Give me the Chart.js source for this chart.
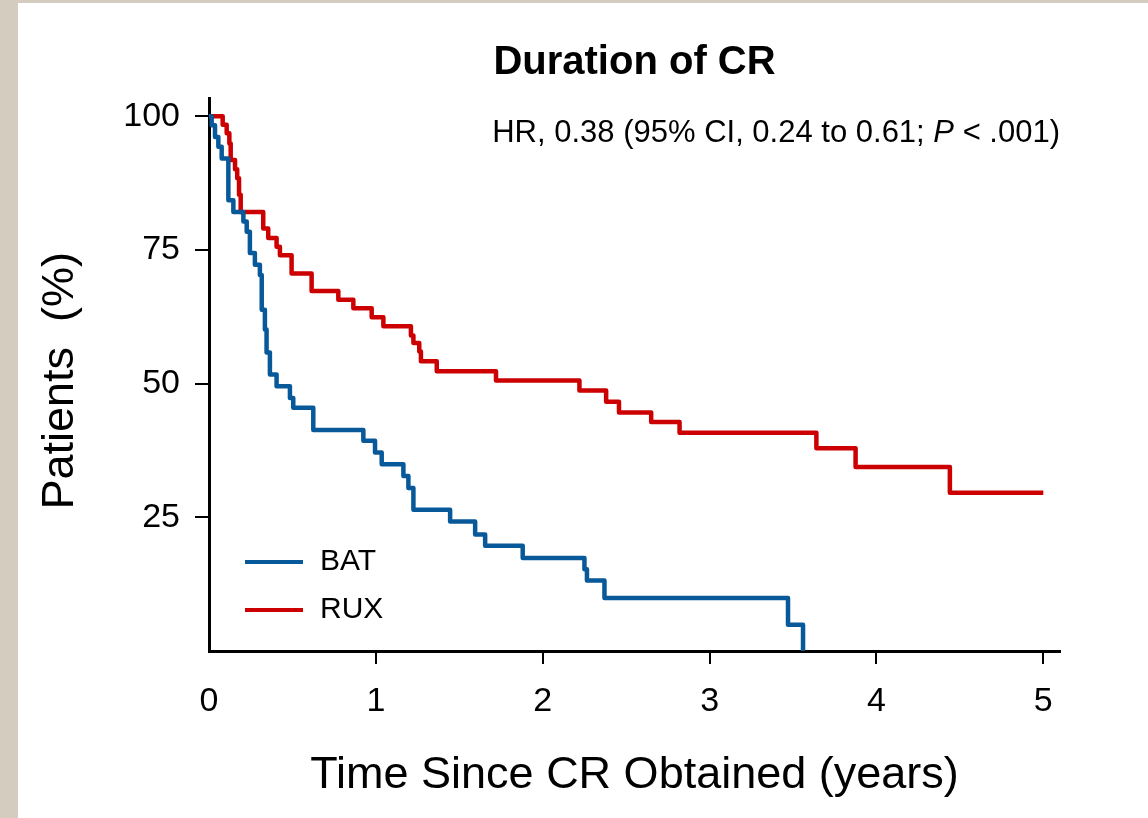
<!DOCTYPE html>
<html>
<head>
<meta charset="utf-8">
<script src="https://cdn.jsdelivr.net/npm/chart.js@4"></script>
<style>
  body { margin: 0; background: #d5ccc0; }
  #panel { position: absolute; left: 18px; top: 3px; width: 1130px; height: 815px; background: #fff; }
</style>
</head>
<body>
<div id="panel"><canvas id="km" width="1130" height="815"></canvas></div>
<script>
// Kaplan-Meier steps (time in years, % of patients)
const batTime = [0, 0.016, 0.036, 0.056, 0.076, 0.116, 0.146, 0.206, 0.226, 0.245, 0.275, 0.305, 0.316, 0.335, 0.345, 0.365, 0.405, 0.485, 0.505, 0.625, 0.925, 0.995, 1.035, 1.165, 1.195, 1.225, 1.445, 1.595, 1.655, 1.88, 2.25, 2.265, 2.37, 3.47, 3.56];
const batSurv = [100, 98.3, 96.1, 94.3, 92.1, 84.3, 82.1, 80.3, 78.4, 74.4, 72.2, 70.3, 63.8, 60.1, 55.8, 51.7, 49.5, 47.3, 45.5, 41.3, 39.3, 37.1, 34.9, 32.7, 30.5, 26.4, 24.2, 21.8, 19.7, 17.4, 15.3, 13.2, 9.9, 4.9, 0];

const ruxTime = [0, 0.082, 0.106, 0.122, 0.13, 0.156, 0.169, 0.18, 0.19, 0.325, 0.355, 0.405, 0.425, 0.495, 0.615, 0.775, 0.865, 0.975, 1.045, 1.21, 1.225, 1.26, 1.27, 1.365, 1.72, 2.22, 2.38, 2.457, 2.65, 2.82, 3.64, 3.875, 4.44, 5.0];
const ruxSurv = [100, 98.4, 96.8, 94.9, 91.8, 90.1, 88.4, 85.3, 82.1, 79.0, 77.2, 75.6, 74.0, 70.6, 67.3, 65.7, 64.1, 62.4, 60.7, 59.0, 57.6, 56.0, 54.2, 52.3, 50.6, 48.7, 46.6, 44.6, 42.8, 40.8, 37.9, 34.4, 29.6, 29.6];

const seriesNames = ['BAT', 'RUX'];
const seriesColors = ['#08599a', '#cc0000'];
const xTicks = [0, 1, 2, 3, 4, 5];
const yTicks = [25, 50, 75, 100];

const FONT = '"Liberation Sans", Arial, sans-serif';
Chart.defaults.font.family = FONT;
Chart.defaults.color = '#000';

const toPoints = (xs, ys) => xs.map((t, i) => ({ x: t, y: ys[i] }));

// title, HR note and legend drawn over the plot
const notes = {
  id: 'notes',
  afterDraw(chart) {
    const { ctx, chartArea: a } = chart;
    ctx.save();
    ctx.fillStyle = '#000';
    ctx.textBaseline = 'middle';

    ctx.font = 'bold 40px ' + FONT;
    ctx.textAlign = 'center';
    ctx.fillText('Duration of CR', (a.left + a.right) / 2, 60);

    // HR, with italic P
    const parts = [['HR, 0.38 (95% CI, 0.24 to 0.61; ', ''], ['P', 'italic '], [' < .001)', '']];
    let w = 0;
    parts.forEach(p => { ctx.font = p[1] + '31px ' + FONT; w += ctx.measureText(p[0]).width; });
    let x = a.right - w;
    ctx.textAlign = 'left';
    parts.forEach(p => {
      ctx.font = p[1] + '31px ' + FONT;
      ctx.fillText(p[0], x, a.top + 35);
      x += ctx.measureText(p[0]).width;
    });

    // legend
    ctx.font = '30px ' + FONT;
    seriesNames.forEach((name, i) => {
      const y = a.bottom - 89 + i * 48;
      ctx.strokeStyle = seriesColors[i];
      ctx.lineWidth = 4;
      ctx.beginPath();
      ctx.moveTo(a.left + 36, y);
      ctx.lineTo(a.left + 94, y);
      ctx.stroke();
      ctx.fillText(name, a.left + 111, y);
    });
    ctx.restore();
  }
};

new Chart(document.getElementById('km'), {
  type: 'line',
  data: {
    datasets: [
      { label: seriesNames[0], data: toPoints(batTime, batSurv), borderColor: seriesColors[0] },
      { label: seriesNames[1], data: toPoints(ruxTime, ruxSurv), borderColor: seriesColors[1] }
    ]
  },
  options: {
    responsive: false,
    animation: false,
    layout: { padding: { top: 95, right: 88, left: 0, bottom: 0 } },
    elements: {
      line: { stepped: true, borderWidth: 4.5, borderJoinStyle: 'round', fill: false, tension: 0 },
      point: { radius: 0, hoverRadius: 0 }
    },
    plugins: { legend: { display: false }, tooltip: { enabled: false } },
    scales: {
      x: {
        type: 'linear',
        min: 0,
        max: 5.1,
        afterBuildTicks: s => { s.ticks = xTicks.map(v => ({ value: v })); },
        afterFit: s => { s.height = 167; },
        grid: {
          drawOnChartArea: false,
          tickLength: 13,
          lineWidth: 2,
          tickColor: c => (c.tick && c.tick.value === 0) ? 'rgba(0,0,0,0)' : '#000'
        },
        border: { color: '#000', width: 3 },
        ticks: { font: { size: 34 }, padding: 17, color: '#000' },
        title: {
          display: true,
          text: 'Time Since CR Obtained (years)',
          font: { size: 45 },
          padding: { bottom: 15 },
          color: '#000'
        }
      },
      y: {
        min: 0,
        max: 103.4,
        afterBuildTicks: s => { s.ticks = yTicks.map(v => ({ value: v })); },
        afterFit: s => { s.width = 191; },
        grid: { drawOnChartArea: false, tickLength: 14, lineWidth: 2, color: '#000' },
        border: { color: '#000', width: 3 },
        ticks: { font: { size: 34 }, padding: 15, color: '#000' },
        title: {
          display: true,
          text: 'Patients  (%) ',
          font: { size: 45 },
          padding: { top: 16 },
          color: '#000'
        }
      }
    }
  },
  plugins: [notes]
});
</script>
</body>
</html>
